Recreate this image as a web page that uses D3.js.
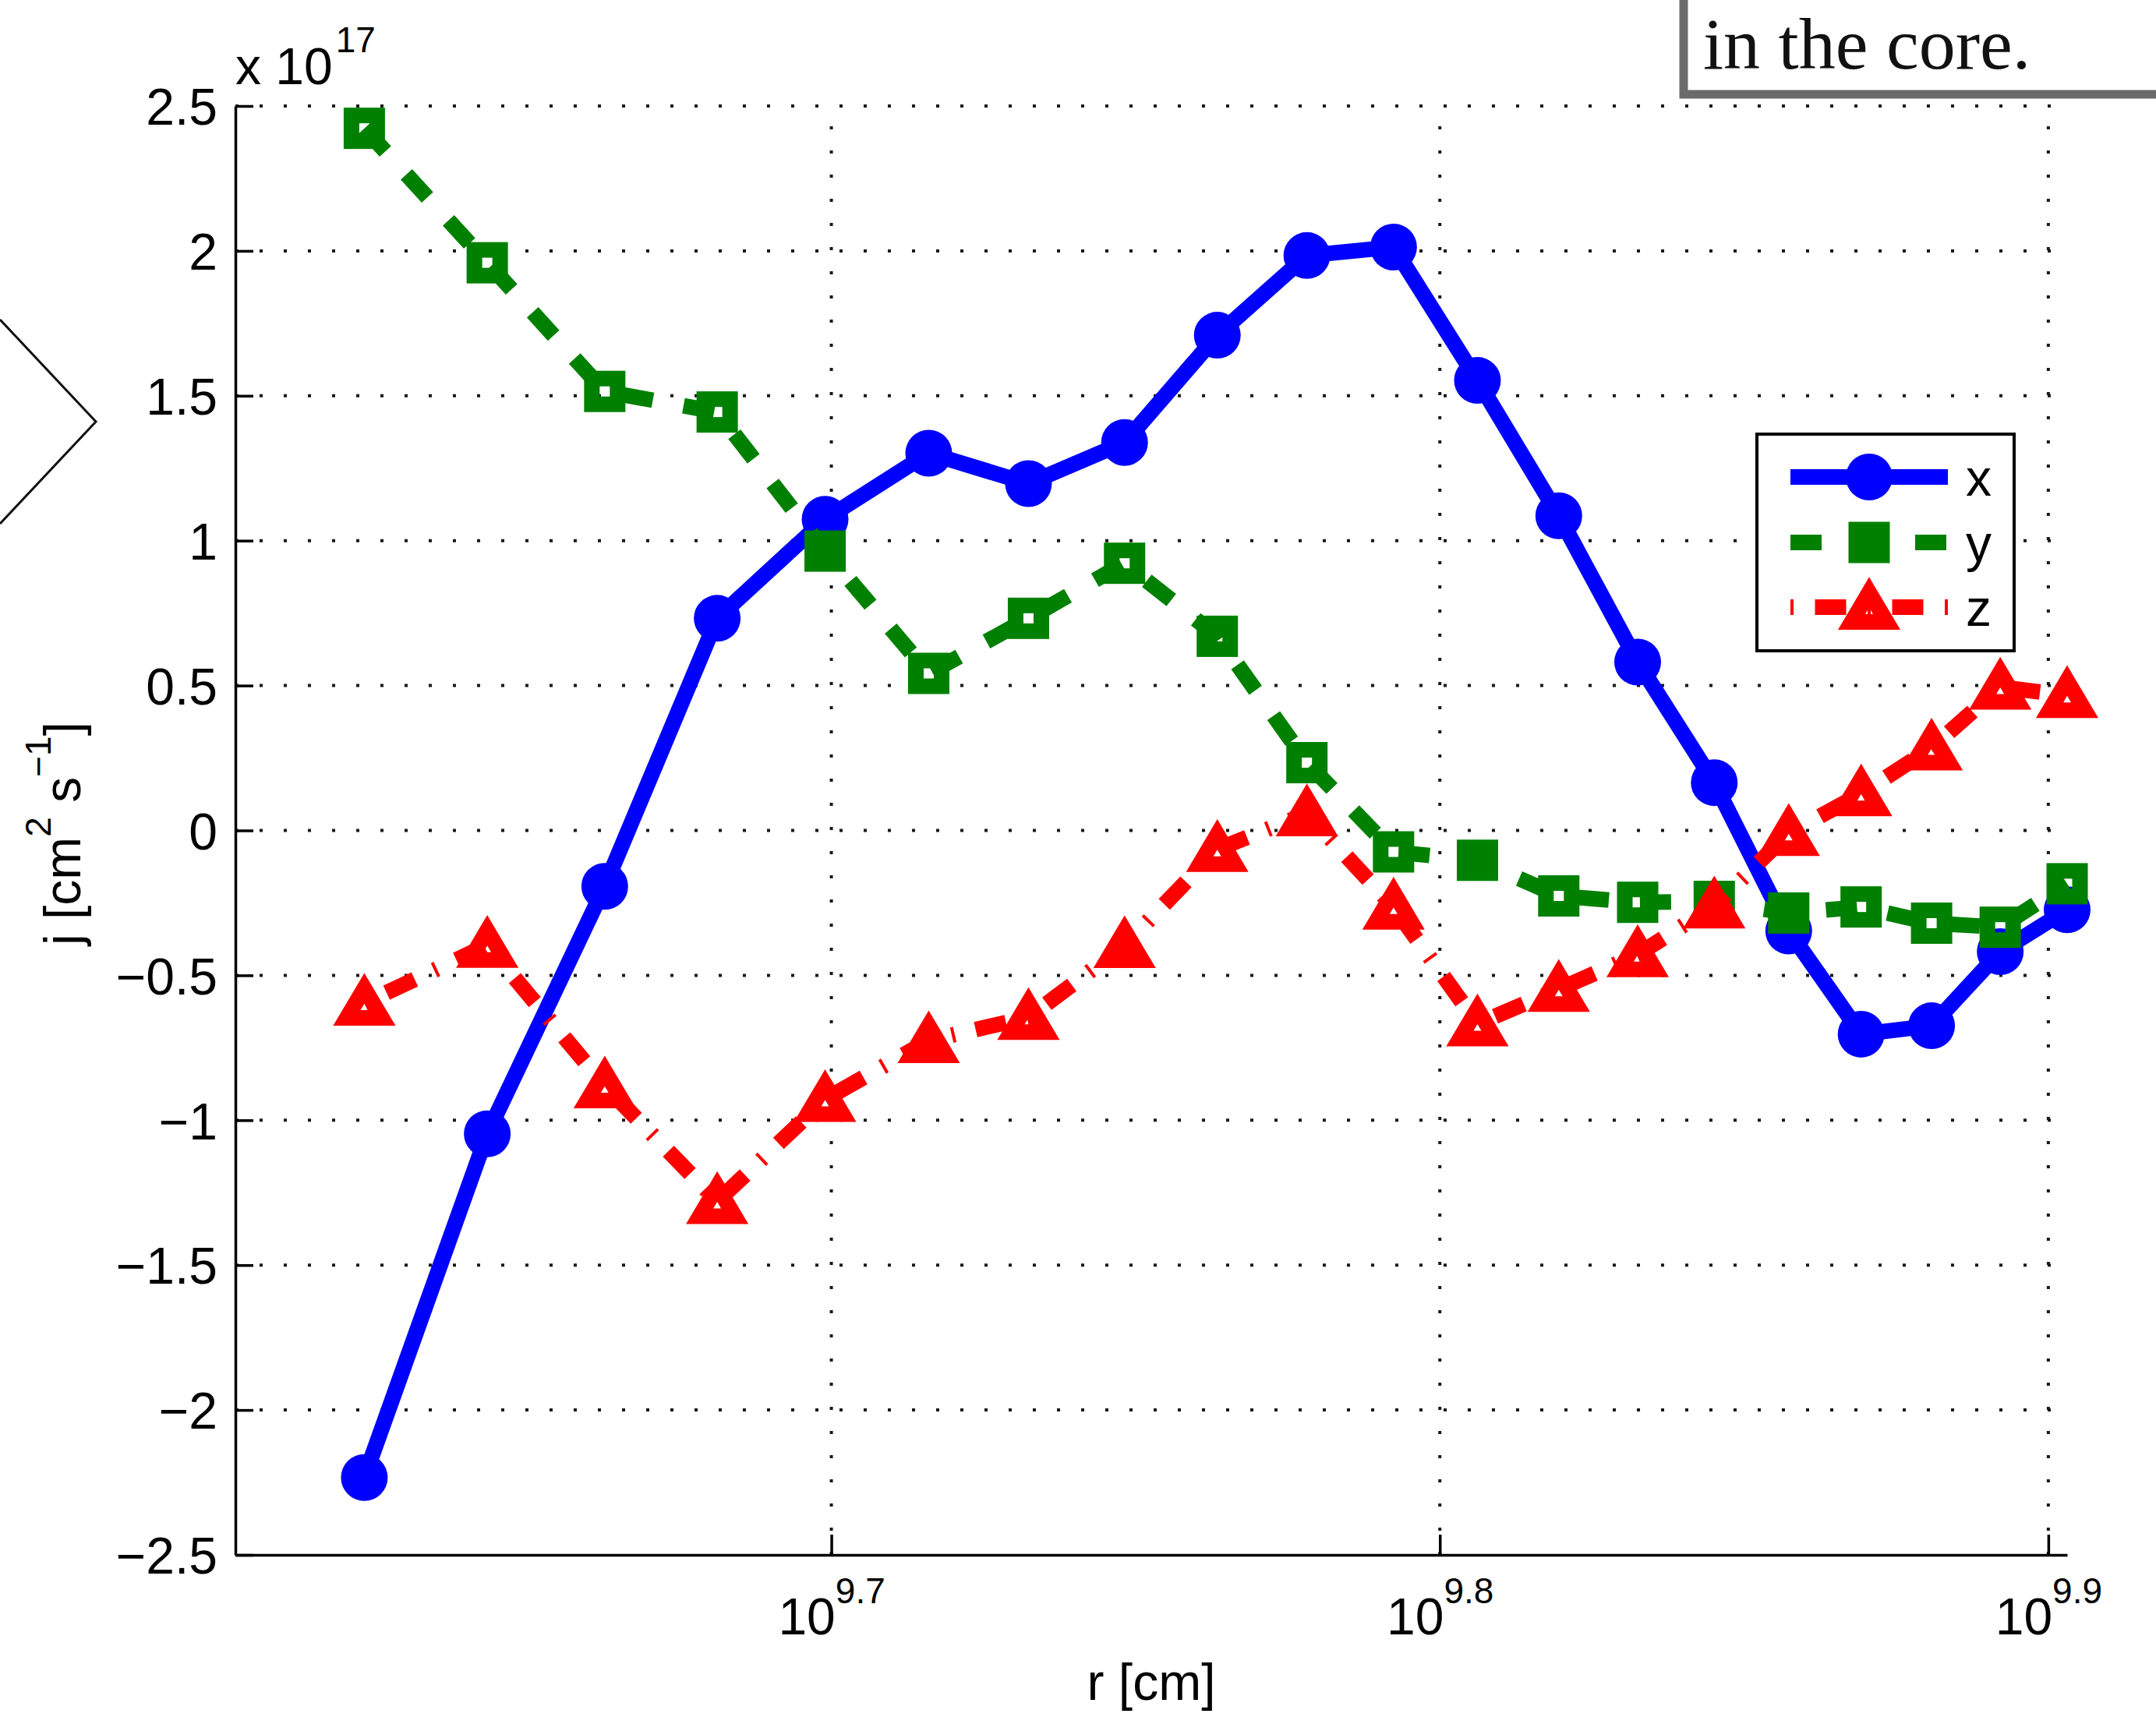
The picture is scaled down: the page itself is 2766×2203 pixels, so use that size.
<!DOCTYPE html>
<html>
<head>
<meta charset="utf-8">
<script src="https://cdn.jsdelivr.net/npm/d3@7"></script>
<style>
  html, body { margin: 0; padding: 0; background: #fff; }
  svg { display: block; }
</style>
</head>
<body>
<script>
// ---------------- data ----------------
const rValues = [4.2e9, 4.4e9, 4.6e9, 4.8e9, 5.0e9, 5.2e9, 5.4e9, 5.6e9, 5.8e9, 6.0e9,
                 6.2e9, 6.4e9, 6.6e9, 6.8e9, 7.0e9, 7.2e9, 7.4e9, 7.6e9, 7.8e9, 8.0e9];
const jx = [-2.233, -1.047, -0.193, 0.732, 1.074, 1.302, 1.197, 1.339, 1.709, 1.984,
            2.013, 1.553, 1.086, 0.581, 0.165, -0.347, -0.703, -0.674, -0.418, -0.274];
const jy = [2.423, 1.959, 1.515, 1.444, 0.964, 0.542, 0.732, 0.922, 0.670, 0.234,
            -0.074, -0.103, -0.226, -0.248, -0.245, -0.285, -0.264, -0.320, -0.334, -0.184];
const jz = [-0.596, -0.396, -0.881, -1.280, -0.928, -0.725, -0.645, -0.397, -0.065, 0.058,
            -0.264, -0.667, -0.548, -0.428, -0.260, -0.010, 0.127, 0.285, 0.495, 0.466];
const seriesNames = ["x", "y", "z"];
const yTickValues = [-2.5, -2, -1.5, -1, -0.5, 0, 0.5, 1, 1.5, 2, 2.5];
const yTickLabels = ["\u22122.5", "\u22122", "\u22121.5", "\u22121", "\u22120.5", "0", "0.5", "1", "1.5", "2", "2.5"];
const xTickExponents = [9.7, 9.8, 9.9];
const xTickLabels = ["9.7", "9.8", "9.9"];
const xDomain = [4e9, 8e9];
const yDomain = [-2.5, 2.5];

// ---------------- layout ----------------
const W = 2766, H = 2203;
const L = 302, R = 2652, T = 136, B = 1995;
const FONT = "'Liberation Sans', Arial, Helvetica, sans-serif";

const svg = d3.select("body").append("svg")
  .attr("width", W).attr("height", H)
  .attr("viewBox", `0 0 ${W} ${H}`);
svg.append("rect").attr("width", W).attr("height", H).attr("fill", "#fff");

const x = d3.scaleLog().domain(xDomain).range([L, R]);
const y = d3.scaleLinear().domain(yDomain).range([B, T]);
const xTickValues = xTickExponents.map(e => Math.pow(10, e));

// ---------------- grid ----------------
const grid = svg.append("g").attr("stroke", "#1a1a1a").attr("stroke-width", 4)
  .attr("stroke-dasharray", "4 27");
grid.selectAll("line.h").data(yTickValues.filter(v => v > yDomain[0])).enter().append("line")
  .attr("x1", L).attr("x2", R).attr("y1", d => y(d)).attr("y2", d => y(d));
grid.selectAll("line.v").data(xTickValues).enter().append("line")
  .attr("x1", d => x(d)).attr("x2", d => x(d)).attr("y1", B).attr("y2", T);

// ---------------- axes ----------------
const yAxis = d3.axisLeft(y).tickValues(yTickValues)
  .tickFormat((d, i) => yTickLabels[i])
  .tickSizeInner(-23).tickSizeOuter(0).tickPadding(23);
const gy = svg.append("g").attr("transform", `translate(${L},0)`).call(yAxis);
gy.select(".domain").attr("stroke", "#000").attr("stroke-width", 3.5);
gy.selectAll(".tick line").attr("stroke", "#000").attr("stroke-width", 3.5);
gy.selectAll(".tick text").attr("font-family", FONT).attr("font-size", 66)
  .attr("fill", "#000").attr("dy", "0.36em");

const xAxis = d3.axisBottom(x).tickValues(xTickValues).tickFormat("")
  .tickSizeInner(-26).tickSizeOuter(0);
const gx = svg.append("g").attr("transform", `translate(0,${B})`).call(xAxis);
gx.select(".domain").attr("stroke", "#000").attr("stroke-width", 3.5);
gx.selectAll(".tick line").attr("stroke", "#000").attr("stroke-width", 3.5);
gx.selectAll(".tick").each(function(d, i) {
  const t = d3.select(this).append("text")
    .attr("x", 0).attr("y", 102)
    .attr("text-anchor", "middle")
    .attr("font-family", FONT).attr("font-size", 66).attr("fill", "#000");
  t.append("tspan").text("10");
  t.append("tspan").attr("dy", -40).attr("font-size", 46).text(xTickLabels[i]);
});

// multiplier
const mult = svg.append("text").attr("x", L).attr("y", 108)
  .attr("font-family", FONT).attr("font-size", 66).attr("fill", "#000");
mult.append("tspan").text("x 10");
mult.append("tspan").attr("dy", -41).attr("dx", 4).attr("font-size", 46).text("17");

// axis labels
svg.append("text").attr("x", (L + R) / 2).attr("y", 2181)
  .attr("text-anchor", "middle").attr("font-family", FONT).attr("font-size", 66)
  .attr("fill", "#000").text("r [cm]");

const yl = svg.append("text")
  .attr("transform", `translate(103,${(T + B) / 2 + 4}) rotate(-90)`)
  .attr("text-anchor", "middle").attr("font-family", FONT).attr("font-size", 66)
  .attr("fill", "#000");
yl.append("tspan").text("j [cm");
yl.append("tspan").attr("dy", -38).attr("font-size", 46).text("2");
yl.append("tspan").attr("dy", 38).text(" s");
yl.append("tspan").attr("dy", -38).attr("font-size", 46).text("\u22121");
yl.append("tspan").attr("dy", 38).text("]");

// ---------------- series ----------------
const styles = [
  { color: "#0000ff", dash: null, marker: "circle" },
  { color: "#008000", dash: "40 40", marker: "square" },
  { color: "#ff0000", dash: "4 27.5 40 27.5", marker: "triangle" }
];
const seriesData = [jx, jy, jz];

function drawMarker(g, type, cx, cy, color) {
  if (type === "circle") {
    g.append("circle").attr("cx", cx).attr("cy", cy).attr("r", 30).attr("fill", color);
  } else if (type === "square") {
    g.append("rect").attr("x", cx - 16.5).attr("y", cy - 16.5)
      .attr("width", 33).attr("height", 33)
      .attr("fill", "none").attr("stroke", color).attr("stroke-width", 20)
      .attr("stroke-linejoin", "miter");
  } else {
    g.append("path")
      .attr("d", `M${cx},${cy - 19} L${cx + 22.5},${cy + 19} L${cx - 22.5},${cy + 19} Z`)
      .attr("fill", "none").attr("stroke", color).attr("stroke-width", 20)
      .attr("stroke-linejoin", "miter").attr("stroke-miterlimit", 10);
  }
}

const line = d3.line().x(d => x(d[0])).y(d => y(d[1]));
seriesData.forEach((vals, si) => {
  const st = styles[si];
  const pts = rValues.map((r, i) => [r, vals[i]]);
  const g = svg.append("g");
  g.append("path").attr("d", line(pts)).attr("fill", "none")
    .attr("stroke", st.color).attr("stroke-width", 20)
    .attr("stroke-linejoin", "miter").attr("stroke-linecap", "butt")
    .attr("stroke-dasharray", st.dash);
  pts.forEach(p => drawMarker(g, st.marker, x(p[0]), y(p[1]), st.color));
});

// ---------------- legend ----------------
const lg = svg.append("g");
lg.append("rect").attr("x", 2254).attr("y", 557).attr("width", 330).attr("height", 278)
  .attr("fill", "#fff").attr("stroke", "#000").attr("stroke-width", 4);
const rowY = [612, 696, 779];
seriesNames.forEach((name, i) => {
  const st = styles[i];
  lg.append("line").attr("x1", 2297).attr("x2", 2499).attr("y1", rowY[i]).attr("y2", rowY[i])
    .attr("stroke", st.color).attr("stroke-width", 20).attr("stroke-dasharray", st.dash);
  drawMarker(lg, st.marker, 2398, rowY[i], st.color);
  lg.append("text").attr("x", 2522).attr("y", rowY[i] + 24)
    .attr("font-family", FONT).attr("font-size", 66).attr("fill", "#000").text(name);
});

// ---------------- page overlay artifacts ----------------
svg.append("rect").attr("x", 2160).attr("y", -20).attr("width", 640).attr("height", 141)
  .attr("fill", "#fff").attr("stroke", "#6b6b6b").attr("stroke-width", 11);
svg.append("text").attr("x", 2185).attr("y", 88)
  .attr("font-family", "'Liberation Serif', 'DejaVu Serif', serif").attr("font-size", 94)
  .attr("fill", "#111").text("in the core.");
svg.append("path").attr("d", "M0,410 L123,541 L0,672")
  .attr("fill", "none").attr("stroke", "#111").attr("stroke-width", 3);
</script>
</body>
</html>
